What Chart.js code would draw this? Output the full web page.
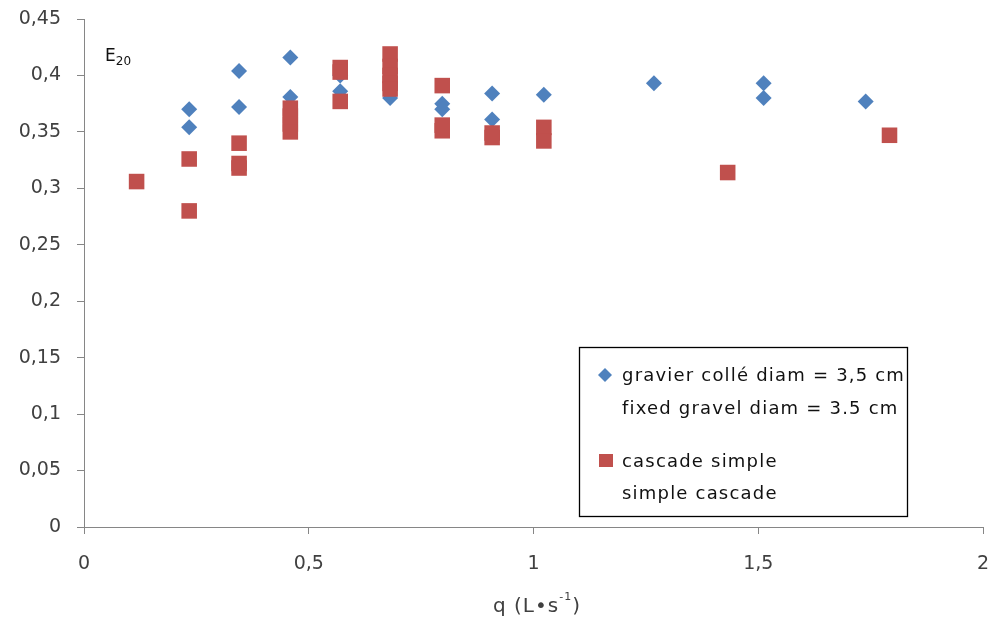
<!DOCTYPE html>
<html>
<head>
<meta charset="utf-8">
<script src="https://cdn.jsdelivr.net/npm/chart.js@4.4.0/dist/chart.umd.min.js"></script>
<style>
  html, body { margin: 0; padding: 0; background: #fff; }
  canvas { display: block; }
</style>
</head>
<body>
<canvas id="myChart" width="994" height="628"></canvas>
<script>
// gravier colle diam = 3,5 cm  (blue diamonds)
const gravier_q = [0.234, 0.234, 0.345, 0.345, 0.459, 0.459, 0.570, 0.570, 0.681, 0.797, 0.797, 0.908, 0.908, 1.023, 1.268, 1.512, 1.512, 1.739]
const gravier_E = [0.370, 0.354, 0.404, 0.372, 0.416, 0.381, 0.400, 0.386, 0.380, 0.375, 0.370, 0.384, 0.361, 0.383, 0.393, 0.393, 0.380, 0.377]

// cascade simple (red squares)
const cascade_q = [0.117, 0.234, 0.234, 0.345, 0.345, 0.345, 0.459, 0.459, 0.459, 0.459, 0.570, 0.570, 0.570,
  0.681, 0.681, 0.681, 0.681, 0.681, 0.797, 0.797, 0.797, 0.908, 0.908, 1.023, 1.023, 1.432, 1.792]
const cascade_E = [0.306, 0.326, 0.280, 0.340, 0.322, 0.318, 0.371, 0.364, 0.357, 0.350, 0.407, 0.403, 0.377,
  0.419, 0.408, 0.400, 0.393, 0.388, 0.391, 0.356, 0.351, 0.349, 0.345, 0.354, 0.342, 0.314, 0.347]

const legendLines = [
  ['gravier collé diam = 3,5 cm', 'fixed gravel diam = 3.5 cm'],
  ['cascade simple', 'simple cascade']
]

const BLUE = 'rgb(79, 129, 189)'
const RED = 'rgb(192, 80, 77)'
const AXIS = '#868686'
const TEXT = '#404040'
const FONT = 'DejaVu Sans'

function toPoints(xs, ys) {
  let pts = []
  for (let i = 0; i < xs.length; i++) {
    pts.push({x: xs[i], y: ys[i]})
  }
  return pts
}

function commaLabel(v) {
  return (Math.round(v * 100) / 100).toString().replace('.', ',')
}

// legend box, E20 label and axis title drawn by hand (two-line entries, sub/superscripts)
const extras = {
  id: 'extras',
  afterDraw(chart) {
    const ctx = chart.ctx
    ctx.save()

    // legend
    ctx.strokeStyle = '#000'
    ctx.lineWidth = 1.3
    ctx.strokeRect(579.5, 347.5, 328, 169)

    ctx.fillStyle = BLUE
    ctx.beginPath()
    ctx.moveTo(605, 368)
    ctx.lineTo(612, 375)
    ctx.lineTo(605, 382)
    ctx.lineTo(598, 375)
    ctx.closePath()
    ctx.fill()

    ctx.fillStyle = RED
    ctx.fillRect(599, 454, 14, 13)

    ctx.fillStyle = '#111'
    ctx.letterSpacing = '1.2px'
    ctx.font = '18px "' + FONT + '"'
    ctx.textBaseline = 'middle'
    ctx.textAlign = 'left'
    ctx.fillText(legendLines[0][0], 622, 376)
    ctx.fillText(legendLines[0][1], 622, 409)
    ctx.fillText(legendLines[1][0], 622, 462)
    ctx.fillText(legendLines[1][1], 622, 494)
    ctx.letterSpacing = '0px'

    // E20
    ctx.font = '17px "' + FONT + '"'
    ctx.textBaseline = 'alphabetic'
    ctx.fillText('E', 105, 61)
    let ew = ctx.measureText('E').width
    ctx.font = '12px "' + FONT + '"'
    ctx.fillText('20', 105 + ew, 65)

    // x axis title
    ctx.fillStyle = TEXT
    ctx.letterSpacing = '1px'
    ctx.font = '20px "' + FONT + '"'
    let a = 'q (L•s', b = '-1', c = ')'
    let wa = ctx.measureText(a).width, wc = ctx.measureText(c).width
    ctx.font = '11px "' + FONT + '"'
    let wb = ctx.measureText(b).width
    let x0 = 537 - (wa + wb + wc) / 2
    ctx.font = '20px "' + FONT + '"'
    ctx.fillText(a, x0, 612)
    ctx.font = '11px "' + FONT + '"'
    ctx.fillText(b, x0 + wa, 600)
    ctx.font = '20px "' + FONT + '"'
    ctx.fillText(c, x0 + wa + wb, 612)

    ctx.restore()
  }
}

const data = {
  datasets: [
    {
      label: 'gravier collé diam = 3,5 cm',
      data: toPoints(gravier_q, gravier_E),
      pointStyle: 'rectRot',
      pointRadius: 8,
      backgroundColor: BLUE,
      borderColor: BLUE,
      borderWidth: 0,
      order: 1
    },
    {
      label: 'cascade simple',
      data: toPoints(cascade_q, cascade_E),
      pointStyle: 'rect',
      pointRadius: 11,
      backgroundColor: RED,
      borderColor: RED,
      borderWidth: 0,
      order: 0
    }
  ]
}

const config = {
  type: 'scatter',
  data: data,
  options: {
    responsive: false,
    animation: false,
    layout: {
      padding: {left: 0, right: 9, top: 19, bottom: 0}
    },
    plugins: {
      legend: {display: false},
      tooltip: {enabled: false}
    },
    scales: {
      x: {
        type: 'linear',
        min: 0,
        max: 2,
        ticks: {
          stepSize: 0.5,
          color: TEXT,
          padding: 19,
          font: {family: FONT, size: 19},
          callback: commaLabel
        },
        grid: {drawOnChartArea: false, drawTicks: true, tickLength: 7, color: AXIS},
        border: {display: true, color: AXIS, width: 1},
        afterFit(scale) {
          scale.height = 101
          scale.paddingLeft = 0
          scale.paddingRight = 0
        }
      },
      y: {
        type: 'linear',
        min: 0,
        max: 0.45,
        ticks: {
          stepSize: 0.05,
          color: TEXT,
          padding: 16,
          font: {family: FONT, size: 19},
          callback: commaLabel
        },
        grid: {drawOnChartArea: false, drawTicks: true, tickLength: 7, color: AXIS},
        border: {display: true, color: AXIS, width: 1},
        afterFit(scale) {
          scale.width = 84
          scale.paddingTop = 0
          scale.paddingBottom = 0
        }
      }
    }
  },
  plugins: [extras]
}

const myChart = new Chart(document.getElementById('myChart'), config)
</script>
</body>
</html>
